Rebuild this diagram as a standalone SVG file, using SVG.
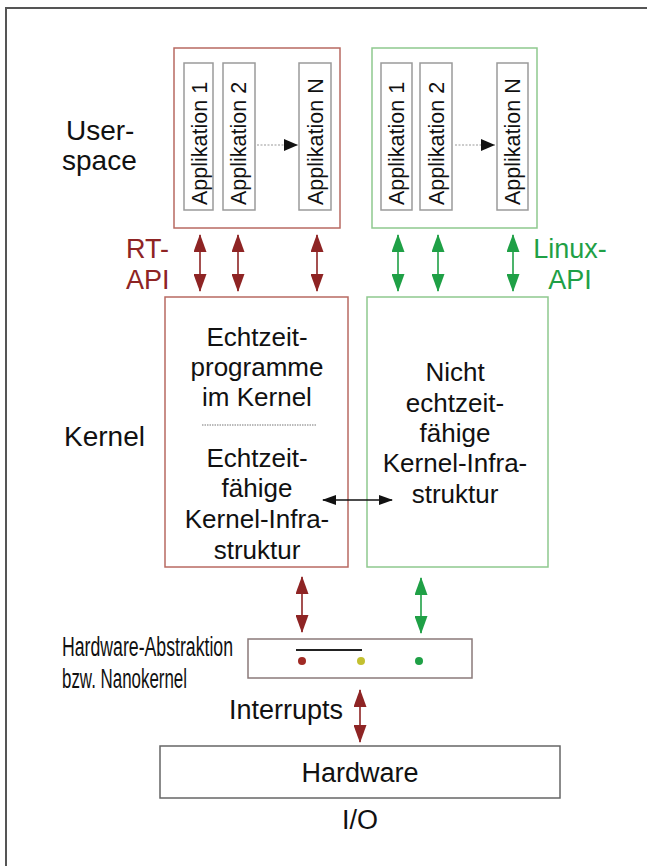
<svg xmlns="http://www.w3.org/2000/svg" width="647" height="866" viewBox="0 0 647 866">
<style>
text{font-family:"Liberation Sans",Arial,sans-serif;fill:#111}
.lbl{font-size:27px}
.app{font-size:21.5px}
.k{font-size:26px;text-anchor:middle}
.appbox{fill:#fff;stroke:#9a9a9a;stroke-width:1.5}
.red{stroke:#8e2424;stroke-width:1.6;fill:none}
.grn{stroke:#1fa046;stroke-width:1.6;fill:none}
.blk{stroke:#111;stroke-width:1.6;fill:none}
</style>
<defs>
<marker id="rh" viewBox="0 0 18 13" refX="17" refY="6.5" markerWidth="18" markerHeight="13" markerUnits="userSpaceOnUse" orient="auto-start-reverse"><path d="M0,0 L18,6.5 L0,13 Z" fill="#8e2424"/></marker>
<marker id="gh" viewBox="0 0 18 13" refX="17" refY="6.5" markerWidth="18" markerHeight="13" markerUnits="userSpaceOnUse" orient="auto-start-reverse"><path d="M0,0 L18,6.5 L0,13 Z" fill="#1fa046"/></marker>
<marker id="bh" viewBox="0 0 14 10" refX="13" refY="5" markerWidth="14" markerHeight="10" markerUnits="userSpaceOnUse" orient="auto-start-reverse"><path d="M0,0 L14,5 L0,10 Z" fill="#111"/></marker>
</defs>
<rect width="647" height="866" fill="#fff"/>
<path d="M6,866 V8 H647" fill="none" stroke="#555" stroke-width="2"/>

<g id="labels">
<text x="66" y="140" style="font-size:28px">User-</text>
<text x="62" y="170" style="font-size:28px">space</text>
<text class="lbl" x="126" y="258" style="fill:#8e2424">RT-</text>
<text class="lbl" x="126" y="289" style="fill:#8e2424">API</text>
<text class="lbl" x="570" y="258" style="fill:#1fa046;text-anchor:middle">Linux-</text>
<text class="lbl" x="570" y="289" style="fill:#1fa046;text-anchor:middle">API</text>
<text x="64" y="446" style="font-size:28px">Kernel</text>
<text x="62" y="656" style="font-size:27px" textLength="171" lengthAdjust="spacingAndGlyphs">Hardware-Abstraktion</text>
<text x="62" y="688" style="font-size:27px" textLength="125" lengthAdjust="spacingAndGlyphs">bzw. Nanokernel</text>
<text class="lbl" x="229" y="719">Interrupts</text>
<text class="lbl" x="360" y="829" style="text-anchor:middle">I/O</text>
</g>

<g id="rt-user">
<rect x="174" y="48" width="166" height="180" fill="#fff" stroke="#b86a62" stroke-width="1.5"/>
<rect class="appbox" x="184" y="63" width="29" height="147"/>
<rect class="appbox" x="223" y="63" width="32" height="147"/>
<rect class="appbox" x="299" y="63" width="32" height="147"/>
<text class="app" transform="translate(207,205) rotate(-90)">Applikation 1</text>
<text class="app" transform="translate(246,205) rotate(-90)">Applikation 2</text>
<text class="app" transform="translate(323,205) rotate(-90)">Applikation N</text>
</g>

<g id="linux-user">
<rect x="372" y="48" width="165" height="180" fill="#fff" stroke="#8ec98e" stroke-width="1.5"/>
<rect class="appbox" x="381" y="63" width="31" height="147"/>
<rect class="appbox" x="420" y="63" width="32" height="147"/>
<rect class="appbox" x="497" y="63" width="31" height="147"/>
<text class="app" transform="translate(404,205) rotate(-90)">Applikation 1</text>
<text class="app" transform="translate(444,205) rotate(-90)">Applikation 2</text>
<text class="app" transform="translate(520,205) rotate(-90)">Applikation N</text>
</g>

<g id="rt-kernel">
<rect x="165" y="297" width="183" height="270" fill="#fff" stroke="#b86a62" stroke-width="1.5"/>
<text class="k" x="257" y="346">Echtzeit-</text>
<text class="k" x="257" y="376">programme</text>
<text class="k" x="257" y="406">im Kernel</text>
<line x1="202" y1="425" x2="316" y2="425" stroke="#777" stroke-width="1.2" stroke-dasharray="1.5 1"/>
<text class="k" x="257" y="467">Echtzeit-</text>
<text class="k" x="257" y="497">fähige</text>
<text class="k" x="257" y="528">Kernel-Infra-</text>
<text class="k" x="257" y="559">struktur</text>
</g>

<g id="linux-kernel">
<rect x="367" y="297" width="181" height="270" fill="#fff" stroke="#8ec98e" stroke-width="1.5"/>
<text class="k" x="455" y="381">Nicht</text>
<text class="k" x="455" y="412">echtzeit-</text>
<text class="k" x="455" y="442">fähige</text>
<text class="k" x="455" y="472">Kernel-Infra-</text>
<text class="k" x="455" y="503">struktur</text>
</g>

<g id="hal">
<rect x="248" y="639" width="224" height="39" fill="#fff" stroke="#8a7a7a" stroke-width="1.5"/>
<line x1="296" y1="650" x2="362" y2="650" stroke="#222" stroke-width="2"/>
<circle cx="302" cy="661" r="4" fill="#a02a24"/>
<circle cx="361" cy="661" r="4" fill="#c3c030"/>
<circle cx="419" cy="661" r="4" fill="#1fa046"/>
</g>

<g id="hardware">
<rect x="160" y="746" width="400" height="52" fill="#fff" stroke="#666" stroke-width="1.5"/>
<text class="lbl" x="360" y="782" style="text-anchor:middle">Hardware</text>
</g>

<g id="connectors">
<line x1="257" y1="145" x2="298" y2="145" stroke="#999" stroke-width="1" stroke-dasharray="2 1.5"/>
<path d="M284,139 L298,145 L284,151 Z" fill="#111"/>
<line x1="455" y1="145" x2="495" y2="145" stroke="#999" stroke-width="1" stroke-dasharray="2 1.5"/>
<path d="M481,139 L495,145 L481,151 Z" fill="#111"/>
<line class="red" x1="200" y1="235" x2="200" y2="291" marker-start="url(#rh)" marker-end="url(#rh)"/>
<line class="red" x1="238" y1="235" x2="238" y2="291" marker-start="url(#rh)" marker-end="url(#rh)"/>
<line class="red" x1="317" y1="235" x2="317" y2="291" marker-start="url(#rh)" marker-end="url(#rh)"/>
<line class="grn" x1="398" y1="235" x2="398" y2="291" marker-start="url(#gh)" marker-end="url(#gh)"/>
<line class="grn" x1="438" y1="235" x2="438" y2="291" marker-start="url(#gh)" marker-end="url(#gh)"/>
<line class="grn" x1="513" y1="235" x2="513" y2="291" marker-start="url(#gh)" marker-end="url(#gh)"/>
<line class="blk" x1="323" y1="500" x2="392" y2="500" marker-start="url(#bh)" marker-end="url(#bh)"/>
<line class="red" x1="302" y1="577" x2="302" y2="632" marker-start="url(#rh)" marker-end="url(#rh)"/>
<line class="grn" x1="421" y1="578" x2="421" y2="633" marker-start="url(#gh)" marker-end="url(#gh)"/>
<line class="red" x1="360" y1="690" x2="360" y2="742" marker-start="url(#rh)" marker-end="url(#rh)"/>
</g>
</svg>
